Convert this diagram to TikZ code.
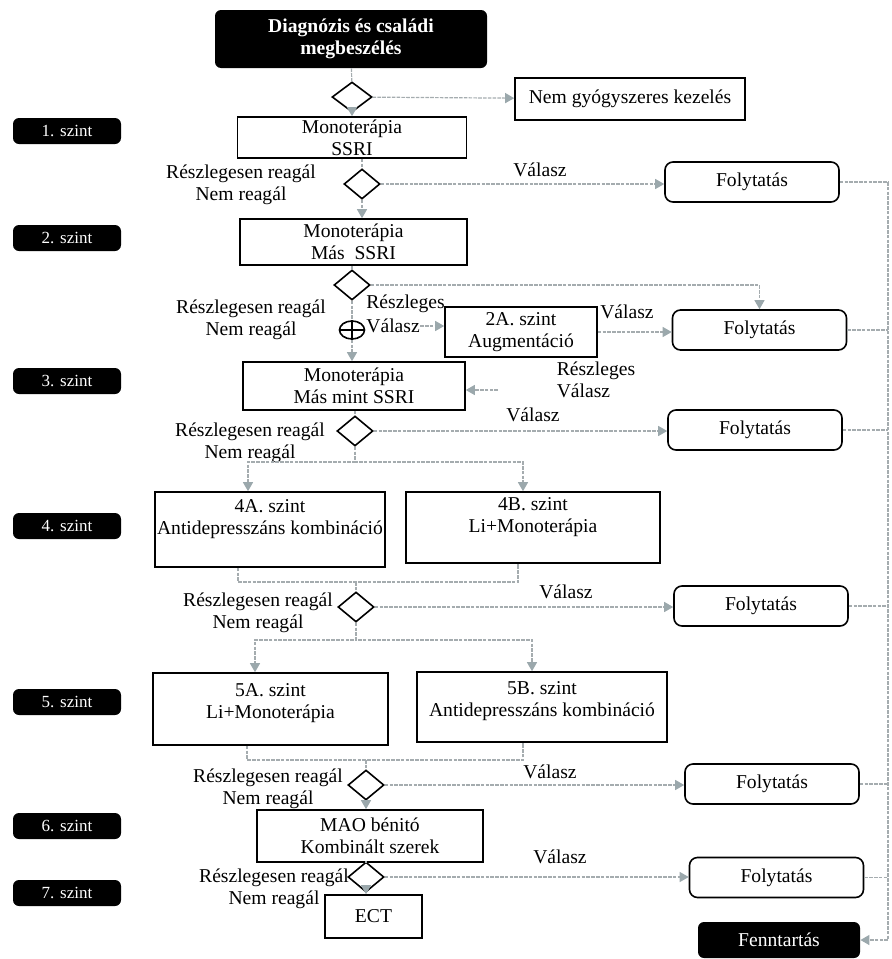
\documentclass[tikz,border=0pt]{standalone}
\usepackage{fontspec}
\setmainfont{Liberation Serif}
\usetikzlibrary{shapes.geometric, arrows.meta}
\definecolor{linkgray}{RGB}{165,172,175}
\definecolor{tipgray}{RGB}{155,168,172}

\begin{document}
\begin{tikzpicture}[x=0.5pt, y=-0.5pt, every node/.style={font=\fontsize{9.8}{11}\selectfont}, box/.style={draw, line width=0.8pt, align=center, inner sep=1pt}, fol/.style={box, rounded corners=4pt, minimum width=87pt, minimum height=20pt}, blk/.style={fill=black, rounded corners=3pt, text=white, align=center, inner sep=1pt}, lvl/.style={blk, minimum width=54pt, minimum height=13pt, font=\fontsize{8.5}{10}\selectfont}, dia/.style={draw, diamond, line width=0.8pt, minimum width=18pt, minimum height=15pt, inner sep=0pt}, txt/.style={align=center, inner sep=0pt}, ln/.style={draw=linkgray, line width=0.6pt, dash pattern=on 1.8pt off 0.6pt}, n/.style={ln, -{Triangle[width=5pt, length=4.5pt, color=tipgray]}}]
    \useasboundingbox (0,0) rectangle (891,959);
    % nodes
    \node[blk, minimum width=136pt, minimum height=29pt, font=\bfseries\fontsize{9.8}{11}\selectfont] (diag) at (351,39) {Diagnózis és családi\\megbeszélés};
    \node[dia, minimum width=20pt] (d1) at (352,97) {};
    \node[box, minimum width=115pt, minimum height=21pt] (ngy) at (630,99) {Nem gyógyszeres kezelés};
    \node[box, minimum width=114.5pt, minimum height=20.5pt] (m1) at (352,137.5) {Monoterápia\\SSRI};
    \node[dia] (d2) at (362,184) {};
    \node[txt] (r2) at (241,185) {Részlegesen reagál\\Nem reagál};
    \node[txt] (v2) at (540,170) {Válasz};
    \node[fol] (f1) at (752,182) {Folytatás};
    \node[box, minimum width=113.5pt, minimum height=23pt] (m2) at (353.5,242) {Monoterápia\\Más\ \ SSRI};
    \node[dia] (d3) at (352,285) {};
    \node[txt] (r3) at (251,320) {Részlegesen reagál\\Nem reagál};
    \node[ellipse, draw, line width=0.8pt, minimum width=12.5pt, minimum height=9pt, inner sep=0pt] (pl) at (352,330) {};
    \node[txt, anchor=west] (rv1a) at (366,304) {Részleges};
    \node[txt, anchor=west] (rv1b) at (366,326) {Válasz};
    \node[box, minimum width=76pt, minimum height=25pt] (aug) at (521,332) {2A. szint\\Augmentáció};
    \node[txt] (v3) at (627,312) {Válasz};
    \node[fol] (f2) at (759.5,330) {Folytatás};
    \node[txt, align=left] (rv2) at (596,380) {Részleges\\Válasz};
    \coordinate (rv2a) at (498,390);
    \node[box, minimum width=111pt, minimum height=24pt] (m3) at (354,386) {Monoterápia\\Más mint SSRI};
    \node[dia] (d4) at (355,431) {};
    \node[txt] (r4) at (250,443) {Részlegesen reagál\\Nem reagál};
    \node[txt] (v4) at (533,415) {Válasz};
    \node[fol] (f3) at (755,430) {Folytatás};
    \node[box, minimum width=112pt, minimum height=37.5pt, text depth=12pt] (a4) at (270,529.5) {4A. szint\\Antidepresszáns kombináció};
    \node[box, minimum width=127pt, minimum height=35.5pt, text depth=12pt] (b4) at (533,527.5) {4B. szint\\Li+Monoterápia};
    \node[dia] (d5) at (356,607) {};
    \node[txt] (r5) at (258,613) {Részlegesen reagál\\Nem reagál};
    \node[txt] (v5) at (566,592) {Válasz};
    \node[fol] (f4) at (761,606) {Folytatás};
    \node[box, minimum width=117.5pt, minimum height=36pt, text depth=8pt] (a5) at (270.5,709) {5A. szint\\Li+Monoterápia};
    \node[box, minimum width=125pt, minimum height=35pt, text depth=8pt] (b5) at (542,707) {5B. szint\\Antidepresszáns kombináció};
    \node[dia] (d6) at (366,785) {};
    \node[txt] (r6) at (268,789) {Részlegesen reagál\\Nem reagál};
    \node[txt] (v6) at (550,772) {Válasz};
    \node[fol] (f5) at (772,784) {Folytatás};
    \node[box, minimum width=113pt, minimum height=26pt] (mao) at (370,836) {MAO bénitó\\Kombinált szerek};
    \node[dia] (d7) at (366,877) {};
    \node[txt] (r7) at (274,889) {Részlegesen reagál\\Nem reagál};
    \node[txt] (v7) at (560,857) {Válasz};
    \node[fol] (f6) at (776.5,877.5) {Folytatás};
    \node[box, minimum width=48.5pt, minimum height=21.5pt] (ect) at (373.5,916.5) {ECT};
    \node[blk, minimum width=81pt, minimum height=18pt] (fen) at (779,940) {Fenntartás};
    \foreach \i/\y in {1/131, 2/238, 3/381, 4/526, 5/702, 6/826, 7/893}
        \node[lvl] (lv\i) at (67,\y) {\i. szint};
    \coordinate (s4l) at (248,462);
    \coordinate (s4r) at (523,462);
    \coordinate (j4l) at (238,582);
    \coordinate (j4r) at (518,582);
    \coordinate (j4) at (356,582);
    \coordinate (s5l) at (255,640);
    \coordinate (s5r) at (532,640);
    \coordinate (j5l) at (247,760);
    \coordinate (j5r) at (523,760);
    \coordinate (j5) at (366,760);
    \coordinate (rail) at (888,0);
    % edges
    \draw[ln] (diag) -- (d1);
    \draw[n] (d1) -- (m1);
    \draw[n] (d1) -- (ngy);
    \draw[ln] (d2 |- m1.south) -- (d2.north);
    \draw[n] (d2) -- (d2 |- m2.north);
    \draw[n] (d2.east) -- (d2.east -| f1.west);
    \draw[ln] (d3 |- m2.south) -- (d3.north);
    \draw[n] (d3.east) -| (f2.north);
    \draw[ln] (d3.south) -- (pl.north);
    \draw[n] (pl) -- (pl |- m3.north);
    \draw[n] (rv1b.east) -- (rv1b.east -| aug.west);
    \draw[n] (aug.east) -- (aug.east -| f2.west);
    \draw[n] (rv2a) -- (rv2a -| m3.east);
    \draw[ln] (d4 |- m3.south) -- (d4.north);
    \draw[n] (d4.east) -- (d4.east -| f3.west);
    \draw[n] (d4.south) |- (s4l) -- (s4l |- a4.north);
    \draw[n] (d4.south) |- (s4r) -- (s4r |- b4.north);
    \draw[ln] (a4.south -| j4l) -- (j4l) -- (j4r) -- (b4.south -| j4r);
    \draw[ln] (j4) -- (d5.north);
    \draw[n] (d5.east) -- (d5.east -| f4.west);
    \draw[n] (d5.south) |- (s5l) -- (s5l |- a5.north);
    \draw[n] (d5.south) |- (s5r) -- (s5r |- b5.north);
    \draw[ln] (a5.south -| j5l) -- (j5l) -- (j5r) -- (b5.south -| j5r);
    \draw[ln] (j5) -- (d6.north);
    \draw[n] (d6.east) -- (d6.east -| f5.west);
    \draw[n] (d6.south) -- (d6.south |- mao.north);
    \draw[ln] (d7 |- mao.south) -- (d7.north);
    \draw[n] (d7.east) -- (d7.east -| f6.west);
    \draw[n] (d7.south) -- (d7.south |- ect.north);
    \foreach \f in {f1, f2, f3, f4, f5, f6}
        \draw[ln] (\f.east) -- (\f.east -| rail);
    \draw[ln] (f1.east -| rail) -- (fen.east -| rail);
    \draw[n] (fen.east -| rail) -- (fen.east);
    % plus sign
    \draw[line width=0.8pt] (pl.north) -- (pl.south) (pl.west) -- (pl.east);
\end{tikzpicture}
\end{document}
